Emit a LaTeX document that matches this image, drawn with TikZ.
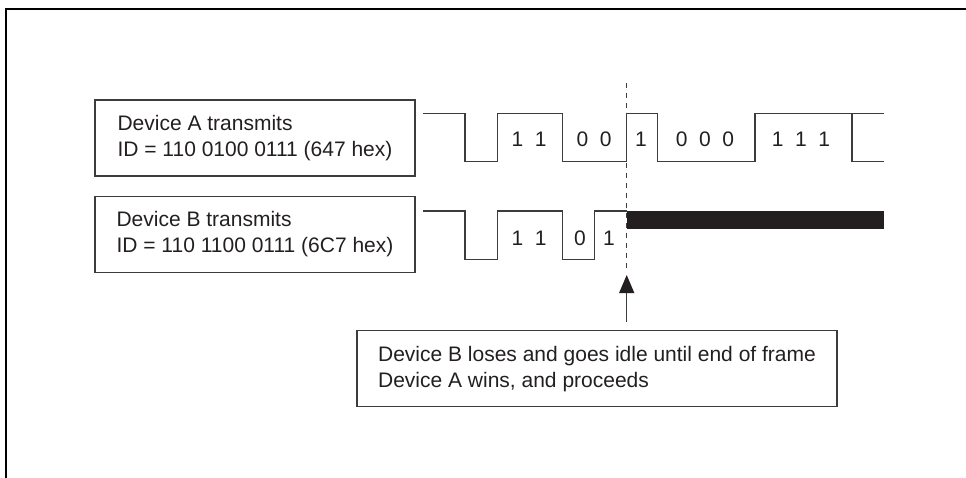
\documentclass[tikz,border=0pt]{standalone}
\usepackage{fontspec}
\setmainfont{Liberation Sans}
\usetikzlibrary{arrows.meta}
\definecolor{ink}{RGB}{35,31,32}
\definecolor{lineg}{RGB}{60,60,60}
\newcommand{\dg}{\hspace{0.55em}}
\tikzset{
  box/.style={draw=lineg, line width=1.2pt, rectangle, align=left, inner sep=0pt,
              minimum height=76pt, text=ink, font=\fontsize{21pt}{26pt}\selectfont},
  wave/.style={draw=lineg, line width=1.3pt},
  bit/.style={anchor=base, text=ink, inner sep=0pt, font=\fontsize{21pt}{26pt}\selectfont},
  frameline/.style={draw=black, line width=2pt},
  divider/.style={draw=lineg, line width=1.2pt, dash pattern=on 5pt off 5pt},
  pointer/.style={draw=lineg, line width=1.3pt, -{Triangle[length=18pt,width=15pt,color=ink]}}
}
\begin{document}
\begin{tikzpicture}[x=1pt,y=-1pt]
\useasboundingbox (0,0) rectangle (966,477);
% outer frame (top and left sides)
\draw[frameline] (6,480) -- (6,8.7) -- (970,8.7);

% boxes
\node[box, minimum width=320pt] (boxA) at (255,138) {Device A transmits\\ID = 110 0100 0111 (647 hex)};
\node[box, minimum width=320pt] (boxB) at (255,234.2) {Device B transmits\\ID = 110 1100 0111 (6C7 hex)};
\node[box, minimum width=480pt] (result) at (597,368.7) {Device B loses and goes idle until end of frame\\Device A wins, and proceeds};

% waveform A
\draw[wave] (423,113.3) -- (465,113.3) -- (465,161.3) -- (497.7,161.3) -- (497.7,113.3)
  -- (562.7,113.3) -- (562.7,161.3) -- (626.7,161.3) -- (626.7,113.3) -- (657.7,113.3)
  -- (657.7,161.3) -- (755,161.3) -- (755,113.3) -- (884,113.3);
\draw[wave] (852,113.3) -- (852,161.3) -- (884,161.3);
\node[bit] (a1) at (529,146) {1\dg 1};
\node[bit] (a2) at (594,146) {0\dg 0};
\node[bit] (a3) at (641,146) {1};
\node[bit] (a4) at (705,146) {0\dg 0\dg 0};
\node[bit] (a5) at (801,146) {1\dg 1\dg 1};

% waveform B
\draw[wave] (423,211) -- (465,211) -- (465,259.3) -- (497.7,259.3) -- (497.7,211)
  -- (562.7,211) -- (562.7,259.3) -- (594.3,259.3) -- (594.3,211) -- (626.7,211);
\fill[ink] (626.7,211) rectangle (884,229.3);
\node[bit] (b1) at (529,245) {1\dg 1};
\node[bit] (b2) at (580,245) {0};
\node[bit] (b3) at (609,245) {1};

% dashed divider and arrow
\coordinate (dtop) at (626.7,82.7);
\coordinate (dbot) at (626.7,269);
\coordinate (tip) at (626.7,275);
\draw[divider] (dtop) -- (dbot);
\draw[pointer, shorten <=8.5pt] (result.north -| tip) -- (tip);
\end{tikzpicture}
\end{document}
